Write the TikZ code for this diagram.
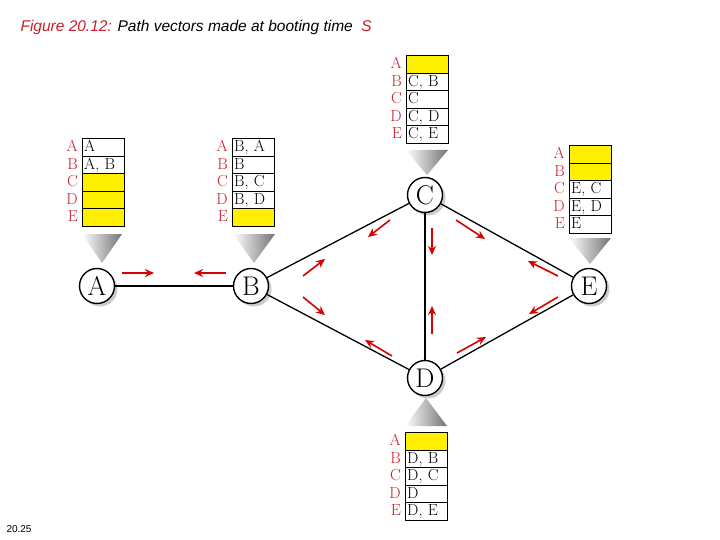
\documentclass[tikz,border=0pt]{standalone}
\usepackage{fontspec}
\newfontfamily\arialfont{Liberation Sans}
\usetikzlibrary{positioning,shadows,arrows.meta,calc}
\definecolor{labred}{RGB}{200,30,40}
\definecolor{cellyel}{RGB}{255,240,0}
\tikzset{
  router/.style = {circle, draw = black, line width = 1.4pt, fill = white, minimum size = 35pt,
                   inner sep = 0pt, font = \fontsize{27}{27}\selectfont,
                   drop shadow = {shadow xshift = 3pt, shadow yshift = -3pt, fill = gray!80}},
  cell/.style = {draw = black, thin, minimum width = 42pt, minimum height = 17.6pt,
                 text height = 11pt, text depth = 2pt,
                 inner sep = 1pt, anchor = north west, text width = 38pt, align = left,
                 font = \fontsize{16}{16}\selectfont},
  dest/.style = {text = labred, inner sep = 1pt, text height = 11pt, text depth = 2pt,
                 font = \fontsize{16}{16}\selectfont},
  msg/.style = {-{Stealth[length=9pt, width=8pt]}, draw = red!85!black, line width = 1.6pt},
  link/.style = {draw = black, line width = 1.3pt}
}
% table of path vectors: origin, list of label/entry/fill
\newcommand{\pvtable}[3]{%
  \foreach \l/\v/\f [count=\i] in {#3} {
    \node[cell, fill = \f] (#1\i) at ($(#2) + (0, {(\i-1)*17.6})$) {\v};
    \node[dest, left = 3pt of #1\i.west] (#1l\i) {\l};
  }
}
\begin{document}
\begin{tikzpicture}[x = 1pt, y = -1pt]
  \useasboundingbox (0,0) rectangle (720,540);

  % title
  \node[anchor = west, font = \arialfont\itshape\fontsize{15.5}{17}\selectfont] (title) at (17,27)
    {\textcolor{labred}{Figure 20.12:} Path vectors made at booting time \ \textcolor{labred}{S}};
  \node[anchor = west, font = \arialfont\fontsize{10}{10}\selectfont] (pageno) at (3,529) {20.25};

  % routers
  \node[router] (A) at (97,286) {A};
  \node[router] (B) at (251,286) {B};
  \node[router] (C) at (425,195) {C};
  \node[router] (D) at (425,378) {D};
  \node[router] (E) at (589,286) {E};

  \path[link] (A) edge (B) (B) edge (C) (B) edge (D)
              (C) edge (D) (C) edge (E) (D) edge (E);

  % pointers from tables
  \shade[left color = white, right color = gray!90!black] (82,234) -- (122,234) -- (102,263) -- cycle;
  \shade[left color = white, right color = gray!90!black] (233,234) -- (275,234) -- (254,263) -- cycle;
  \shade[left color = white, right color = gray!90!black] (406,150) -- (448,150) -- (427,175) -- cycle;
  \shade[left color = white, right color = gray!90!black] (569,238) -- (611,238) -- (590,264) -- cycle;
  \shade[left color = white, right color = gray!90!black] (405,426) -- (447,426) -- (426,398) -- cycle;

  % tables
  \pvtable{ta}{82,138}{A/A/white, B/{A, B}/white, C//cellyel, D//cellyel, E//cellyel}
  \pvtable{tb}{232,138}{A/{B, A}/white, B/B/white, C/{B, C}/white, D/{B, D}/white, E//cellyel}
  \pvtable{tc}{406,55}{A//cellyel, B/{C, B}/white, C/C/white, D/{C, D}/white, E/{C, E}/white}
  \pvtable{te}{569,145}{A//cellyel, B//cellyel, C/{E, C}/white, D/{E, D}/white, E/E/white}
  \pvtable{td}{405,432}{A//cellyel, B/{D, B}/white, C/{D, C}/white, D/D/white, E/{D, E}/white}

  % messages
  \draw[msg] (122,273) -- (154,273);
  \draw[msg] (226,273) -- (194,273);
  \draw[msg] (303,276) -- (325,259);
  \draw[msg] (390,220) -- (368,237);
  \draw[msg] (303,297) -- (325,315);
  \draw[msg] (392,356) -- (365,340);
  \draw[msg] (432,228) -- (432,255);
  \draw[msg] (432,334) -- (432,306);
  \draw[msg] (456,220) -- (485,239);
  \draw[msg] (558,276) -- (528,261);
  \draw[msg] (457,353) -- (486,337);
  \draw[msg] (558,297) -- (529,314);
\end{tikzpicture}
\end{document}
